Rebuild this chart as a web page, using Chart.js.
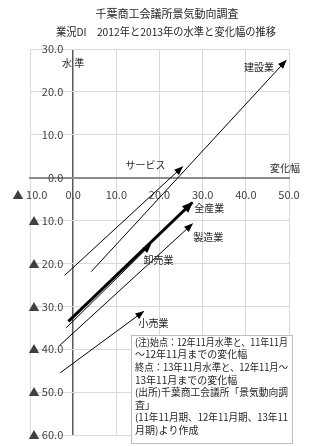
<!DOCTYPE html>
<html>
<head>
<meta charset="utf-8">
<script src="https://cdn.jsdelivr.net/npm/chart.js@4.4.1/dist/chart.umd.min.js"></script>
<style>
  html, body { margin: 0; padding: 0; background: #fff; }
</style>
</head>
<body>
<canvas id="di-chart" width="311" height="446"></canvas>
<script>
const industries = ['全産業', '建設業', '製造業', '卸売業', '小売業', 'サービス'];
// 始点: 12年11月の変化幅と水準
const change2012 = [-1.1, 4.2, -3.0, -1.6, -3.0, -2.0];
const level2012 = [-33.5, -21.9, -39.0, -35.0, -45.5, -22.8];
// 終点: 13年11月の変化幅と水準
const change2013 = [27.6, 49.3, 27.6, 17.9, 16.3, 25.3];
const level2013 = [-5.8, 27.3, -10.8, -15.7, -31.2, 2.5];

const xTicks = [-10, 0, 10, 20, 30, 40, 50];
const yTicks = [30, 20, 10, 0, -10, -20, -30, -40, -50, -60];

const titleLines = ['千葉商工会議所景気動向調査', '業況DI　2012年と2013年の水準と変化幅の推移'];
const noteLines = [
  '(注)始点：12年11月水準と、11年11月',
  '～12年11月までの変化幅',
  '終点：13年11月水準と、12年11月～',
  '13年11月までの変化幅',
  '(出所)千葉商工会議所「景気動向調',
  '査」',
  '(11年11月期、12年11月期、13年11',
  '月期)より作成'
];

const FONT = '"Noto Sans CJK JP", "Noto Sans", sans-serif';
const TEXT = '#404040';

const fmt = v => v < 0 ? '▲ ' + Math.abs(v).toFixed(1) : v.toFixed(1);

const datasets = industries.map((name, i) => ({
  label: name,
  data: [
    { x: change2012[i], y: level2012[i] },
    { x: change2013[i], y: level2013[i] }
  ],
  showLine: true,
  borderColor: '#000',
  borderWidth: i === 0 ? 3 : 1,
  pointRadius: 0
}));

// label place relative to the arrow tip: [dx, dy, align]
const labelPos = {
  '全産業': [2, 6, 'left'],
  '建設業': [-12, 7, 'right'],
  '製造業': [1, 13, 'left'],
  '卸売業': [-7, 15, 'left'],
  '小売業': [-5, 12, 'left'],
  'サービス': [-17, -2, 'right']
};

const arrowPlugin = {
  id: 'arrowHeads',
  afterDatasetsDraw(chart) {
    const ctx = chart.ctx;
    chart.data.datasets.forEach((ds, i) => {
      const pts = chart.getDatasetMeta(i).data;
      const a = pts[0], b = pts[1];
      const ang = Math.atan2(b.y - a.y, b.x - a.x);
      const thick = ds.borderWidth > 2;
      const len = thick ? 10 : 8;
      const half = thick ? 4.5 : 3.5;
      ctx.save();
      ctx.translate(b.x, b.y);
      ctx.rotate(ang);
      ctx.beginPath();
      ctx.moveTo(1, 0);
      ctx.lineTo(-len, -half);
      ctx.lineTo(-len, half);
      ctx.closePath();
      ctx.fillStyle = ds.borderColor;
      ctx.fill();
      ctx.restore();

      const p = labelPos[ds.label];
      ctx.save();
      ctx.font = '10px ' + FONT;
      ctx.fillStyle = '#262626';
      ctx.textAlign = p[2];
      ctx.textBaseline = 'middle';
      ctx.fillText(ds.label, b.x + p[0], b.y + p[1]);
      ctx.restore();
    });
  }
};

const textPlugin = {
  id: 'extraText',
  afterDraw(chart) {
    const ctx = chart.ctx;
    const { x, y } = chart.scales;
    ctx.save();
    ctx.textBaseline = 'middle';
    ctx.textAlign = 'center';
    ctx.fillStyle = '#262626';
    ctx.font = '11px ' + FONT;
    ctx.fillText(titleLines[0], 167, 14);
    ctx.fillText(titleLines[1], 166, 32, 220);

    // axis titles
    ctx.font = '10px ' + FONT;
    ctx.fillText('水 準', x.getPixelForValue(0), chart.chartArea.top + 14);
    ctx.textAlign = 'right';
    ctx.fillText('変化幅', chart.chartArea.right + 11, y.getPixelForValue(0) - 9);

    // note box
    const bx = 131.5, by = 335.5, bw = 161, bh = 108;
    ctx.fillStyle = '#fff';
    ctx.fillRect(bx, by, bw, bh);
    ctx.strokeStyle = '#bfbfbf';
    ctx.lineWidth = 1;
    ctx.strokeRect(bx, by, bw, bh);
    ctx.fillStyle = '#262626';
    ctx.textAlign = 'left';
    ctx.font = '10px ' + FONT;
    noteLines.forEach((t, i) => {
      ctx.fillText(t, bx + 3.5, by + 6.5 + i * 12.6, 153);
    });
    ctx.restore();
  }
};

const isZero = c => c.tick && c.tick.value === 0;

new Chart(document.getElementById('di-chart'), {
  type: 'scatter',
  data: { datasets },
  options: {
    responsive: false,
    animation: false,
    layout: { padding: { top: 49, left: 30, right: 22, bottom: 11 } },
    plugins: {
      legend: { display: false },
      tooltip: { enabled: false },
      title: { display: false }
    },
    scales: {
      x: {
        type: 'linear',
        min: xTicks[0],
        max: xTicks[xTicks.length - 1],
        position: { y: 0 },
        afterBuildTicks: s => { s.ticks = xTicks.map(v => ({ value: v })); },
        ticks: {
          callback: fmt,
          color: TEXT,
          font: { family: FONT, size: 11 },
          padding: 4,
          maxRotation: 0,
          autoSkip: false
        },
        // the gridline at 0 is the vertical axis line
        grid: {
          color: c => isZero(c) ? '#595959' : '#d9d9d9',
          lineWidth: c => isZero(c) ? 1.5 : 1,
          tickColor: 'transparent',
          tickLength: 7
        },
        border: { color: '#8c8c8c', width: 2 }
      },
      y: {
        type: 'linear',
        min: yTicks[yTicks.length - 1],
        max: yTicks[0],
        // labels sit a little left of the x=0 line
        position: { x: -2.3 },
        afterBuildTicks: s => { s.ticks = yTicks.map(v => ({ value: v })); },
        ticks: {
          callback: fmt,
          color: TEXT,
          font: { family: FONT, size: 11 },
          autoSkip: false
        },
        grid: {
          color: c => isZero(c) ? 'transparent' : '#d9d9d9',
          tickColor: 'transparent',
          tickLength: 0
        },
        border: { display: false }
      }
    }
  },
  plugins: [arrowPlugin, textPlugin]
});
</script>
</body>
</html>
